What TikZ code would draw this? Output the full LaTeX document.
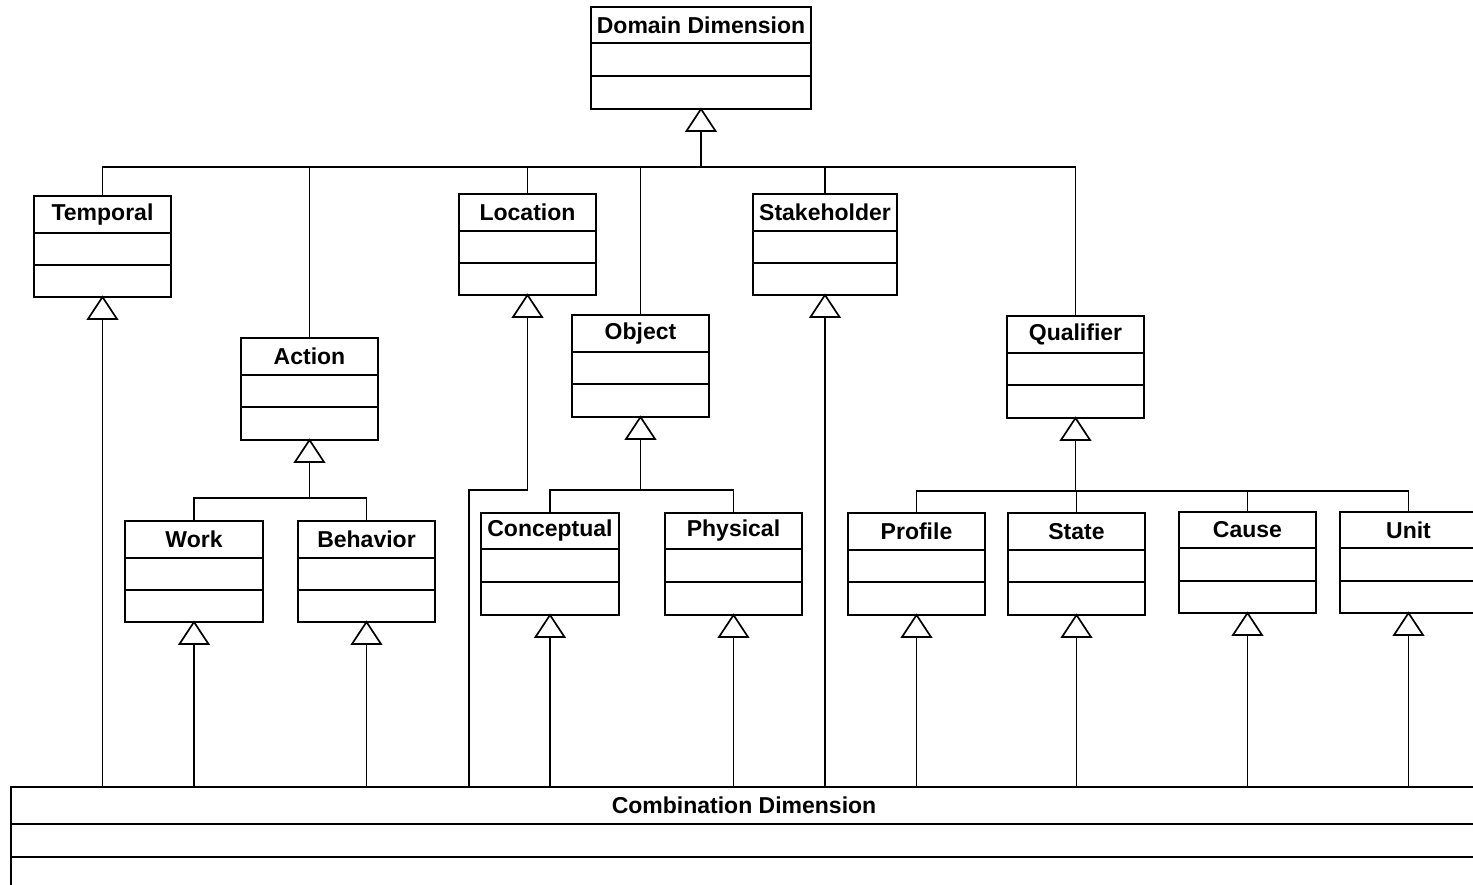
\documentclass[tikz,border=0pt]{standalone}
\usepackage{fontspec}
\setmainfont{Liberation Sans}
\begin{document}
\begin{tikzpicture}[x=1pt,y=-1pt,
  box/.style={line width=2pt},
  cls/.style={draw, line width=2pt, anchor=north west, inner sep=0pt, outer sep=0pt},
  ttl/.style={font=\fontsize{23}{27}\selectfont\bfseries, inner sep=0pt},
  conn/.style={line width=1.3pt},
  gen/.style={line width=1.7pt, fill=white, line join=miter}]
\useasboundingbox (0,0) rectangle (1473,885);
\clip (0,0) rectangle (1473,885);
\fill[white] (0,0) rectangle (1473,885);

% class box: name, x1, y1, x2, y2, compartment line 1, compartment line 2, title
\newcommand\umlbox[8]{%
  \node[cls, minimum width={#4-#2}, minimum height={#5-#3}] (#1) at (#2,#3) {};
  \draw[box] (#2,#6) -- (#4,#6) (#2,#7) -- (#4,#7);
  \node[ttl] (#1-name) at ({(#2+#4)/2},{(#3+#6)/2}) {#8};
}
% generalisation triangle under a class box, with its base point #1-t
\newcommand\gentri[1]{%
  \draw[gen] (#1.south) -- ++(-14.5,22) -- ++(29,0) -- cycle;
  \coordinate (#1-t) at ([yshift=-22pt]#1.south);
}

\umlbox{dom}{591}{7}{811}{109}{43}{76}{Domain Dimension}
\umlbox{temporal}{34}{196}{171}{297}{233}{265}{Temporal}
\umlbox{action}{241}{338}{378}{440}{375}{407}{Action}
\umlbox{location}{459}{194}{596}{295}{231}{263}{Location}
\umlbox{object}{572}{315}{709}{417}{352}{384}{Object}
\umlbox{stake}{753}{194}{897}{295}{231}{263}{Stakeholder}
\umlbox{qual}{1007}{316}{1144}{418}{353}{385}{Qualifier}
\umlbox{work}{125}{521}{263}{622}{558}{590}{Work}
\umlbox{behav}{298}{521}{435}{622}{558}{590}{Behavior}
\umlbox{concept}{481}{513}{619}{615}{549}{582}{Conceptual}
\umlbox{phys}{665}{513}{802}{615}{549}{582}{Physical}
\umlbox{profile}{848}{513}{985}{615}{550}{582}{Profile}
\umlbox{state}{1008}{513}{1145}{615}{550}{582}{State}
\umlbox{cause}{1179}{512}{1316}{613}{548}{581}{Cause}
\umlbox{unit}{1340}{512}{1477}{613}{548}{581}{Unit}

% combination class, running past the right and bottom edges
\node[cls, minimum width=1500, minimum height=140] (comb) at (11,787) {};
\draw[box] (11,824) -- (1520,824) (11,857) -- (1520,857);
\node[ttl] (comb-name) at (744,805) {Combination Dimension};

% bus lines
\coordinate (bus1) at (0,167);
\coordinate (busA) at (0,498);
\coordinate (busO) at (0,490);
\coordinate (busQ) at (0,491);
\coordinate (bend) at (469,490);

% Domain Dimension and its specialisations
\gentri{dom}
\draw[conn] (dom-t) -- (dom-t |- bus1);
\draw[conn] (temporal.north) -- (temporal.north |- bus1) -| (qual.north);
\draw[conn] (action.north) -- (action.north |- bus1);
\draw[conn] (location.north) -- (location.north |- bus1);
\draw[conn] (object.north) -- (object.north |- bus1);
\draw[conn] (stake.north) -- (stake.north |- bus1);

% Action
\gentri{action}
\draw[conn] (action-t) -- (action-t |- busA);
\draw[conn] (work.north) |- (busA -| behav.north) -- (behav.north);

% Object
\gentri{object}
\draw[conn] (object-t) -- (object-t |- busO);
\draw[conn] (concept.north) |- (busO -| phys.north) -- (phys.north);

% Qualifier
\gentri{qual}
\draw[conn] (qual-t) -- (qual-t |- busQ);
\draw[conn] (profile.north) |- (busQ -| unit.north) -- (unit.north);
\draw[conn] (state.north) -- (state.north |- busQ);
\draw[conn] (cause.north) -- (cause.north |- busQ);

% Combination Dimension specialises the leaf classes
\foreach \n in {temporal,work,behav,concept,phys,stake,profile,state,cause,unit}{
  \gentri{\n}
  \draw[conn] (\n-t) -- (\n-t |- comb.north);
}
\gentri{location}
\draw[conn] (location-t) |- (bend) -- (bend |- comb.north);
\end{tikzpicture}
\end{document}
